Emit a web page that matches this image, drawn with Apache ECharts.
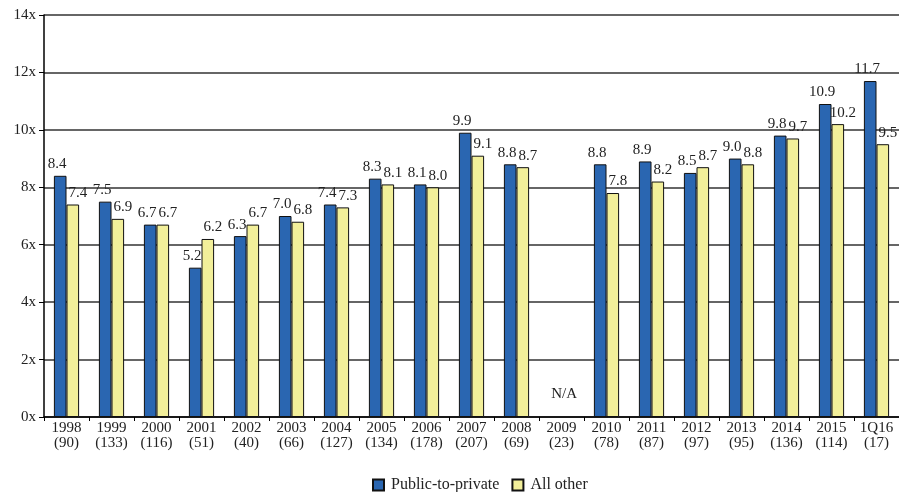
<!DOCTYPE html>
<html>
<head>
<meta charset="utf-8">
<script src="https://cdn.jsdelivr.net/npm/echarts@6/dist/echarts.min.js"></script>
<style>
  html, body { margin: 0; padding: 0; background: #fff; }
  #chart { width: 899px; height: 492px; }
</style>
</head>
<body>
<div id="chart"></div>
<script>
// years and deal counts (shown under the year)
var years = ['1998','1999','2000','2001','2002','2003','2004','2005','2006','2007','2008','2009','2010','2011','2012','2013','2014','2015','1Q16'];
var counts = [90,133,116,51,40,66,127,134,178,207,69,23,78,87,97,95,136,114,17];
// multiples
var publicToPrivate = [8.4,7.5,6.7,5.2,6.3,7.0,7.4,8.3,8.1,9.9,8.8,null,8.8,8.9,8.5,9.0,9.8,10.9,11.7];
var allOther = [7.4,6.9,6.7,6.2,6.7,6.8,7.3,8.1,8.0,9.1,8.7,null,7.8,8.2,8.7,8.8,9.7,10.2,9.5];

var serif = '"Liberation Serif", "DejaVu Serif", serif';
var categories = years.map(function (y, i) { return y + '\n(' + counts[i] + ')'; });

var chart = echarts.init(document.getElementById('chart'));
var option = {
    animation: false,
    textStyle: { fontFamily: serif },
    grid: { left: 44, right: 0, top: 15, bottom: 75 },
    legend: {
        top: 477,
        left: 372,
        icon: 'rect',
        itemWidth: 11,
        itemHeight: 11,
        itemGap: 12,
        padding: [0, 0, 0, 0],
        textStyle: { fontFamily: serif, fontSize: 16, color: '#222', padding: [0, 0, 0, 2] },
        data: ['Public-to-private', 'All other']
    },
    xAxis: {
        type: 'category',
        data: categories,
        axisLine: { lineStyle: { color: '#000', width: 1.5 } },
        axisTick: { show: true, length: 4, lineStyle: { color: '#000' } },
        axisLabel: { interval: 0, fontFamily: serif, fontSize: 15, color: '#222', lineHeight: 15, margin: 4 }
    },
    yAxis: {
        type: 'value',
        min: 0,
        max: 14,
        interval: 2,
        axisLine: { show: true, lineStyle: { color: '#000', width: 1.5 } },
        axisTick: { show: true, length: 5, lineStyle: { color: '#000' } },
        axisLabel: { formatter: '{value}x', fontFamily: serif, fontSize: 15, color: '#222', margin: 8 },
        splitLine: { lineStyle: { color: '#333', width: 1.5 } }
    },
    series: [
        {
            name: 'Public-to-private',
            type: 'bar',
            data: publicToPrivate,
            barGap: '0%',
            barCategoryGap: '44%',
            itemStyle: { color: '#2a66b1', borderColor: '#111', borderWidth: 1 },
            label: {
                show: true, position: 'top', distance: 4, offset: [-3, 0],
                formatter: function (p) { return p.value.toFixed(1); },
                fontFamily: serif, fontSize: 15, color: '#222'
            },
            markPoint: {
                symbol: 'rect', symbolSize: 1,
                itemStyle: { color: 'transparent' },
                label: { show: true, formatter: 'N/A', fontFamily: serif, fontSize: 15, color: '#222', offset: [9, 0] },
                data: [{ coord: ['2009\n(23)', 0.8] }]
            }
        },
        {
            name: 'All other',
            type: 'bar',
            data: allOther,
            itemStyle: { color: '#f2ef9a', borderColor: '#111', borderWidth: 1 },
            label: {
                show: true, position: 'top', distance: 4, offset: [5, 0],
                formatter: function (p) { return p.value.toFixed(1); },
                fontFamily: serif, fontSize: 15, color: '#222'
            }
        }
    ]
};
chart.setOption(option);
</script>
</body>
</html>
